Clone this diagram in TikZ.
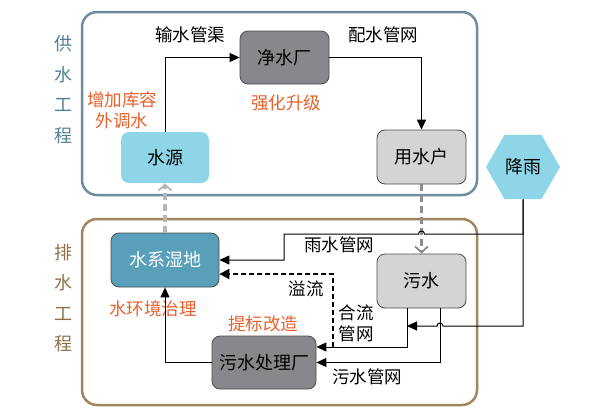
\documentclass[tikz,border=0pt]{standalone}
\usepackage{fontspec}
\setmainfont{Noto Sans CJK SC}
\usetikzlibrary{arrows.meta,shapes.geometric}
\definecolor{gsframe}{HTML}{6F8BA0}
\definecolor{psframe}{HTML}{A0865F}
\definecolor{gslabel}{HTML}{4F8098}
\definecolor{pslabel}{HTML}{8E6F47}
\definecolor{tipred}{HTML}{E8612C}
\definecolor{darkbox}{HTML}{88878B}
\definecolor{lightbox}{HTML}{D4D4D6}
\definecolor{skyblue}{HTML}{8ED5E8}
\definecolor{lakeblue}{HTML}{5A9FBA}
\definecolor{pipegray}{HTML}{8C8C8C}
\definecolor{palegray}{HTML}{B6B6B6}
\tikzset{
  box/.style={draw=black!70,line width=0.8pt,rounded corners=8pt,minimum width=89pt,minimum height=53pt,inner sep=0pt,font=\fontsize{18}{20}\selectfont},
  frame/.style={line width=2.5pt,rounded corners=15pt},
  side/.style={align=center,inner sep=0pt,font=\fontsize{18}{30.5}\selectfont},
  word/.style={align=center,inner sep=0pt,font=\fontsize{17.5}{21}\selectfont},
  tip/.style={word,text=tipred},
  pipe/.style={draw=black,line width=1pt,-{Triangle[length=10pt,width=9pt]}},
  overflow/.style={draw=black,line width=2pt,dash pattern=on 5pt off 3pt,-{Triangle[length=10pt,width=10pt]}},
  reuse/.style={line width=3.5pt,dash pattern=on 7pt off 4pt,-{Straight Barb[length=6pt,width=13pt,line width=1.8pt]}}
}
\begin{document}
\begin{tikzpicture}[x=1pt,y=-1pt]
  \useasboundingbox (0,0) rectangle (599,416);
  % frames
  \draw[frame,draw=gsframe] (82,12) rectangle (477,195);
  \draw[frame,draw=psframe] (82,219) rectangle (477,405);
  \node[side,text=gslabel] (gs) at (63,89.5) {供\\水\\工\\程};
  \node[side,text=pslabel] (ps) at (63,298) {排\\水\\工\\程};
  % nodes
  \node[box,draw=none,fill=skyblue,minimum width=88pt,minimum height=51pt] (src) at (165,157.5) {水源};
  \node[box,fill=darkbox] (plant) at (284.5,57.5) {净水厂};
  \node[box,fill=lightbox,minimum height=54pt] (user) at (421.5,157) {用水户};
  \node[regular polygon,regular polygon sides=6,minimum size=74pt,inner sep=0pt,fill=skyblue,font=\fontsize{18}{20}\selectfont] (rain) at (523,167) {降雨};
  \node[box,fill=lakeblue,text=white,minimum width=108pt,minimum height=54pt] (lake) at (165,260) {水系湿地};
  \node[box,fill=lightbox,minimum height=54pt] (sew) at (421.5,281) {污水};
  \node[box,fill=darkbox,minimum width=104pt] (wwtp) at (264,362.5) {污水处理厂};
  % labels
  \node[word] (l1) at (190,35) {输水管渠};
  \node[word] (l2) at (383,35) {配水管网};
  \node[tip] (t1) at (122,110) {增加库容\\外调水};
  \node[tip] (t2) at (286,103) {强化升级};
  \node[word] (l3) at (339,245) {雨水管网};
  \node[word] (l4) at (306,289) {溢流};
  \node[word] (l5) at (356,323.5) {合流\\管网};
  \node[word] (l6) at (367,377) {污水管网};
  \node[tip] (t3) at (153,309) {水环境治理};
  \node[tip] (t4) at (263,324) {提标改造};
  % bends
  \coordinate (pl) at (407,347);
  \coordinate (pr) at (440,362.5);
  \coordinate (rb) at (284,234);
  \coordinate (rc) at (523,326);
  \coordinate (of) at (333,274);
  % supply
  \path[pipe] (src.north) |- (plant.west);
  \path[pipe] (plant.east) -| (user.north);
  \draw[reuse,draw=palegray] (lake.north) -- (src.south);
  \draw[reuse,draw=pipegray] (user.south) -- (sew.north);
  % drainage
  \path[pipe] (rain.south) -- (rain.south |- rb) -- ([xshift=3pt]user.south |- rb)
    arc[start angle=0,end angle=180,radius=3pt] -- (rb) |- (lake.east);
  \path[pipe] (rain.south) |- ([xshift=3pt]pr |- rc)
    arc[start angle=0,end angle=180,radius=3pt] -- (pl |- rc);
  \path[pipe] (sew.south -| pl) -- (pl) -- (pl -| wwtp.east);
  \path[pipe] (sew.south -| pr) -- (pr) -- (wwtp.east);
  \path[overflow] (pl -| of) -- (of) -- (of -| lake.east);
  \path[pipe] (wwtp.west) -| (lake.south);
\end{tikzpicture}
\end{document}
